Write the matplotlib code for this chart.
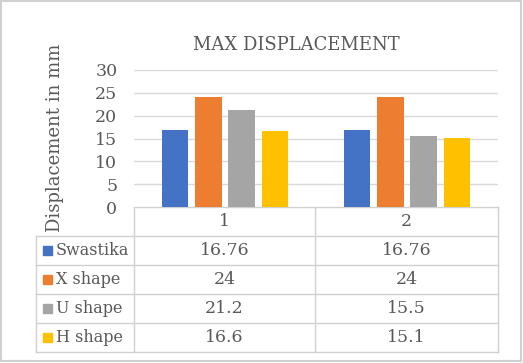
import matplotlib
matplotlib.use("Agg")
import matplotlib.pyplot as plt
from matplotlib.patches import Rectangle

categories = ["1", "2"]
series = ["Swastika", "X shape", "U shape", "H shape"]
values = [
    [16.76, 16.76],
    [24, 24],
    [21.2, 15.5],
    [16.6, 15.1],
]
labels = [["16.76", "16.76"], ["24", "24"], ["21.2", "15.5"], ["16.6", "15.1"]]
colors = ["#4472C4", "#ED7D31", "#A5A5A5", "#FFC000"]

plt.rcParams["font.family"] = "DejaVu Serif"
txt = "#595959"
line = "#D9D9D9"

W, H = 523, 363
fig = plt.figure(figsize=(W / 100, H / 100), dpi=100)

# plot area in pixel coordinates
px_l, px_r, px_top, px_bot = 134, 498, 70, 207
ax = fig.add_axes([px_l / W, 1 - px_bot / H, (px_r - px_l) / W, (px_bot - px_top) / H])
step, bw = 0.182, 0.144
for k, (name, vals) in enumerate(zip(series, values)):
    xs = [i + (k - 1.5) * step for i in range(len(categories))]
    ax.bar(xs, vals, width=bw, color=colors[k], zorder=3)
ax.set_xlim(-0.5, len(categories) - 0.5)
ax.set_ylim(0, 30)
ax.set_yticks(range(0, 31, 5))
ax.yaxis.grid(True, color=line, linewidth=1, zorder=0)
ax.tick_params(axis="y", length=0, labelsize=12.5, labelcolor=txt, pad=12)
ax.set_xticks([])
for s in ax.spines.values():
    s.set_visible(False)

# overlay in pixel coords for title, axis label, table and border
ov = fig.add_axes([0, 0, 1, 1], zorder=-1)
ov.set_xlim(0, W)
ov.set_ylim(H, 0)
ov.axis("off")
ov.add_patch(Rectangle((1, 1), W - 3, H - 3, fill=False, edgecolor="#D0D0D0", linewidth=1.5))
ov.text(296, 45, "MAX DISPLACEMENT", ha="center", va="center", fontsize=13, color=txt)
ov.text(55, 138, "Displacement in mm", rotation=90, ha="center", va="center",
        fontsize=13, color=txt)

col_x = [36, 134, 315, 498]
row_y = [207, 236, 265, 294, 323, 352]
lc = "#D0D0D0"
ov.plot([134, 498], [207, 207], color=lc, lw=1)
for x in col_x[1:]:
    ov.plot([x, x], [207, 352], color=lc, lw=1)
ov.plot([36, 36], [236, 352], color=lc, lw=1)
for y in row_y[1:]:
    ov.plot([36, 498], [y, y], color=lc, lw=1)

for j, c in enumerate(categories):
    ov.text((col_x[j + 1] + col_x[j + 2]) / 2, (row_y[0] + row_y[1]) / 2, c,
            ha="center", va="center", fontsize=12.5, color=txt)
for k, name in enumerate(series):
    yc = (row_y[k + 1] + row_y[k + 2]) / 2
    ov.add_patch(Rectangle((43, yc - 4.5), 9, 9, color=colors[k]))
    ov.text(56, yc, name, ha="left", va="center", fontsize=11.5, color=txt)
    for j in range(len(categories)):
        ov.text((col_x[j + 1] + col_x[j + 2]) / 2, yc, labels[k][j],
                ha="center", va="center", fontsize=12.5, color=txt)

fig.savefig("out.png", dpi=100, facecolor="white")
